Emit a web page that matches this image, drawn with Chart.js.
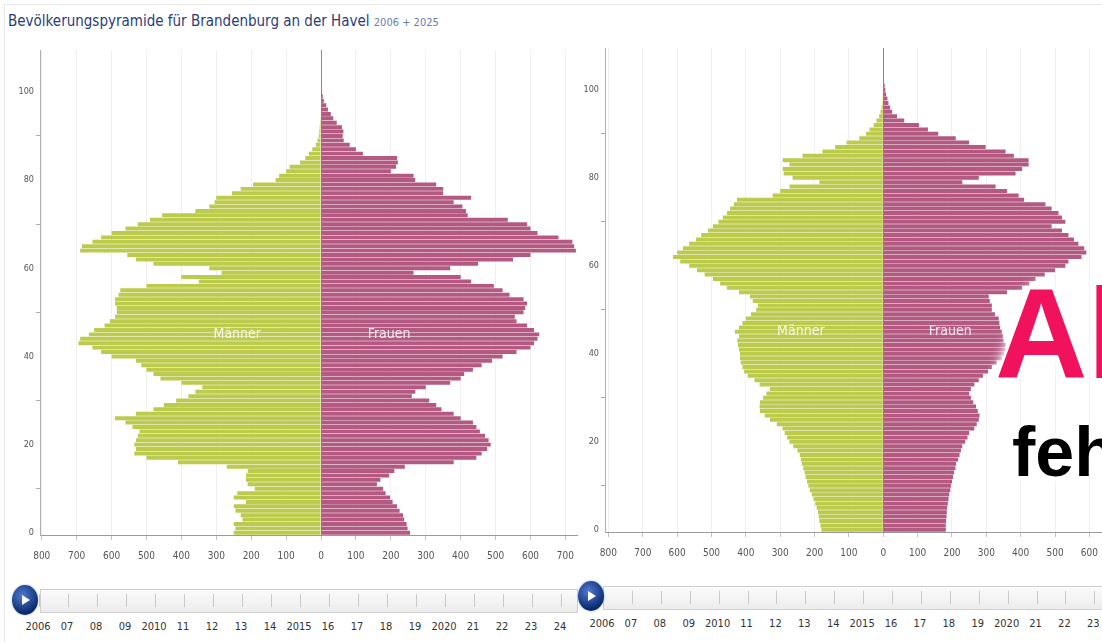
<!DOCTYPE html>
<html>
<head>
<meta charset="utf-8">
<script src="https://cdn.jsdelivr.net/npm/chart.js"></script>
<style>
  body { margin: 0; width: 1102px; height: 642px; background: #fff; overflow: hidden; position: relative;
         font-family: "Liberation Sans Narrow", "DejaVu Sans Condensed", sans-serif; }
  #rahmen { position: absolute; left: 4px; top: 4px; width: 1110px; height: 650px; border: 1px solid #e8e8e8; }
  #titel { position: absolute; left: 8px; top: 12px; font-size: 15px; color: #2b3d78; white-space: nowrap; }
  #titel span { font-size: 11px; color: #6b7cab; }
  canvas { position: absolute; }
  #pyramide2006 { left: 0; top: 40px; }
  #pyramide2025 { left: 570px; top: 38px; }
  .leiste { position: absolute; height: 22px; border: 1px solid #cfcfcf; background: linear-gradient(#fbfbfb, #ececec); }
  .strich { position: absolute; top: 4px; width: 1px; height: 13px; background: #c9c9c9; }
  .jahr { position: absolute; font-size: 11px; color: #333; transform: translateX(-50%); white-space: nowrap; }
  .play { position: absolute; width: 26px; height: 30px; border-radius: 50%;
          background: radial-gradient(circle at 40% 35%, #4f7bd0, #0b2a6e 70%); box-shadow: 0 0 2px #7aa0e0; }
  .play::after { content: ""; position: absolute; left: 10px; top: 10px; border-left: 8px solid #fff;
                 border-top: 5px solid transparent; border-bottom: 5px solid transparent; }
  .gross { position: absolute; font-family: "Liberation Sans", Arial, sans-serif; font-weight: bold; white-space: nowrap;
           text-shadow: 0 0 4px #fff, 0 0 8px #fff, 0 0 12px #fff, 0 0 16px #fff; }
  #ueber1 { left: 995px; top: 270px; font-size: 128px; line-height: 128px; color: #f0125c; }
  #ueber2 { left: 1012px; top: 417px; font-size: 70px; line-height: 70px; color: #000; }
</style>
</head>
<body>
<div id="rahmen"></div>
<div id="titel">Bevölkerungspyramide für Brandenburg an der Havel <span>2006 + 2025</span></div>
<canvas id="pyramide2006" width="584" height="525"></canvas>
<canvas id="pyramide2025" width="538" height="524"></canvas>
<div id="ueber1" class="gross">Al</div>
<div id="ueber2" class="gross">feh</div>
<script>
// Altersgruppen 0..109
const alter = Array.from({ length: 110 }, (_, i) => i);

// Achsenbeschriftung (Männer links negativ)
const xTicks = [-800, -700, -600, -500, -400, -300, -200, -100, 0, 100, 200, 300, 400, 500, 600, 700, 800];
const yTicks = [0, 20, 40, 60, 80, 100];

// 2006
const maenner2006 = [
  250, 245, 250, 225, 230, 245, 250, 215, 250, 240,
  190, 210, 215, 215, 210, 270, 410, 500, 535, 530,
  535, 530, 525, 520, 540, 560, 590, 530, 480, 450,
  415, 380, 360, 340, 400, 460, 480, 500, 515, 530,
  600, 630, 655, 695, 690, 665, 650, 620, 605, 590,
  585, 585, 590, 590, 580, 575, 500, 350, 400, 285,
  320, 480, 530, 555, 690, 685, 655, 630, 600, 560,
  525, 490, 455, 360, 320, 305, 300, 255, 230, 195,
  130, 120, 100, 90, 60, 45, 35, 25, 15, 10,
  6, 5, 4, 3, 2, 1
];
const frauen2006 = [
  255, 248, 245, 238, 235, 225, 218, 205, 198, 185,
  178, 160, 170, 195, 210, 240, 380, 445, 460, 476,
  486, 480, 470, 455, 445, 435, 400, 380, 345, 330,
  310, 260, 270, 300, 370, 400, 410, 435, 460, 490,
  520, 560, 600, 610, 620, 625, 610, 590, 560, 555,
  580, 585, 590, 580, 540, 520, 495, 430, 400, 265,
  370, 450, 550, 600, 730, 725, 720, 680, 620, 600,
  590, 535, 420, 415, 405, 380, 430, 350, 350, 330,
  270, 265, 200, 215, 220, 218, 120, 100, 82, 65,
  62, 64, 60, 45, 35, 28, 20, 15, 8, 5,
  3, 2, 1
];

// 2025
const maenner2025 = [
  180, 183, 186, 188, 190, 194, 198, 203, 208, 214,
  218, 222, 226, 229, 233, 237, 240, 243, 250, 262,
  273, 280, 287, 293, 310, 330, 345, 359, 360, 359,
  350, 340, 330, 360, 375, 395, 405, 410, 415, 417,
  417, 420, 423, 425, 420, 432, 420, 410, 400, 385,
  370, 365, 380, 388, 420, 455, 475, 496, 520, 542,
  565, 591, 612, 600, 583, 565, 545, 530, 510, 496,
  480, 467, 455, 446, 435, 426, 322, 300, 273, 186,
  264, 290, 293, 273, 293, 235, 177, 140, 107, 70,
  50, 40, 28, 20, 12, 8, 5, 3, 2, 1
];
const frauen2025 = [
  182, 182, 183, 184, 185, 186, 188, 190, 192, 195,
  197, 200, 203, 206, 210, 212, 218, 222, 226, 230,
  238, 245, 250, 265, 272, 278, 280, 275, 270, 262,
  255, 250, 255, 265, 278, 290, 305, 316, 330, 345,
  352, 356, 356, 350, 348, 345, 340, 338, 336, 325,
  316, 316, 310, 307, 360, 404, 425, 443, 470, 500,
  530, 539, 577, 591, 585, 568, 555, 539, 520, 490,
  530, 520, 510, 490, 472, 410, 394, 360, 327, 230,
  278, 385, 404, 423, 423, 380, 356, 298, 250, 211,
  160, 130, 104, 61, 40, 26, 20, 15, 12, 8,
  6, 4, 2
];

// Zeitleiste
const jahre = ['2006', '07', '08', '09', '2010', '11', '12', '13', '14', '2015',
               '16', '17', '18', '19', '2020', '21', '22', '23', '24'];

const gruen = '#bdcb4c';
const rosa = '#b35982';
const schrift = '"Liberation Sans Narrow", "DejaVu Sans Condensed", sans-serif';

// ==============================
// PLUGIN: Männer / Frauen im Balken
// ==============================
const geschlechtText = {
  id: 'geschlecht',
  afterDatasetsDraw(chart, args, opts) {
    const { ctx, scales: { x, y } } = chart;
    const py = y.getPixelForValue(opts.alter);
    ctx.save();
    ctx.font = '14px ' + schrift;
    ctx.fillStyle = 'rgba(255,255,255,0.85)';
    ctx.textAlign = 'center';
    ctx.textBaseline = 'middle';
    ctx.fillText('Männer', x.getPixelForValue(opts.maenner), py);
    ctx.fillText('Frauen', x.getPixelForValue(opts.frauen), py);
    ctx.restore();
  }
};

function pyramide(id, maenner, frauen, xMin, xMax, yBreite) {
  new Chart(document.getElementById(id), {
    type: 'bar',
    data: {
      labels: alter,
      datasets: [
        { label: 'Männer', data: maenner.map(v => -v), backgroundColor: gruen,
          barPercentage: 0.9, categoryPercentage: 1, borderWidth: 0 },
        { label: 'Frauen', data: frauen, backgroundColor: rosa,
          barPercentage: 0.9, categoryPercentage: 1, borderWidth: 0 }
      ]
    },
    options: {
      indexAxis: 'y',
      responsive: false,
      animation: false,
      layout: { padding: { top: 10, right: 0, bottom: 0, left: 0 } },
      plugins: {
        legend: { display: false },
        tooltip: { enabled: false },
        geschlecht: { alter: 45, maenner: -240, frauen: 195 }
      },
      scales: {
        x: {
          type: 'linear', stacked: true, min: xMin, max: xMax,
          afterBuildTicks: s => { s.ticks = xTicks.filter(v => v >= s.min && v <= s.max).map(v => ({ value: v })); },
          afterFit: s => { s.height = 30; },
          ticks: { autoSkip: false, maxRotation: 0, padding: 10,
                   color: '#555', font: { family: schrift, size: 10 },
                   callback: v => Math.abs(v) },
          grid: { color: c => (c.tick && c.tick.value === 0) ? '#8a8a8a' : '#f0f0f0',
                  tickColor: '#c4c4c4', tickLength: 5 },
          border: { color: '#9a9a9a' }
        },
        y: {
          type: 'category', stacked: true, reverse: true,
          afterBuildTicks: s => { s.ticks = s.ticks.filter(t => yTicks.includes(alter[t.value])); },
          afterFit: s => { s.width = yBreite; },
          ticks: { autoSkip: false, padding: 2, color: '#555', font: { family: schrift, size: 9 } },
          grid: { drawOnChartArea: false, tickLength: 4, tickColor: '#aaa' },
          border: { color: '#b0b0b0' }
        }
      }
    },
    plugins: [geschlechtText]
  });
}

pyramide('pyramide2006', maenner2006, frauen2006, -805, 735, 40);
pyramide('pyramide2025', maenner2025, frauen2025, -810, 640, 35);

// ==============================
// ZEITLEISTEN
// ==============================
function zeitleiste(links, oben, breite, start, abstand, knopfX, knopfY) {
  const leiste = document.createElement('div');
  leiste.className = 'leiste';
  leiste.style.left = links + 'px';
  leiste.style.top = oben + 'px';
  leiste.style.width = breite + 'px';
  document.body.appendChild(leiste);

  jahre.forEach((j, i) => {
    const x = start + i * abstand;
    const s = document.createElement('div');
    s.className = 'strich';
    s.style.left = (x - links) + 'px';
    leiste.appendChild(s);

    const t = document.createElement('div');
    t.className = 'jahr';
    t.textContent = j;
    t.style.left = x + 'px';
    t.style.top = (oben + 31) + 'px';
    document.body.appendChild(t);
  });

  const knopf = document.createElement('div');
  knopf.className = 'play';
  knopf.style.left = (knopfX - 13) + 'px';
  knopf.style.top = (knopfY - 15) + 'px';
  document.body.appendChild(knopf);
}

zeitleiste(40, 589, 536, 38, 29, 25, 600);
zeitleiste(603, 586, 500, 602, 28.9, 591, 596);
</script>
</body>
</html>
